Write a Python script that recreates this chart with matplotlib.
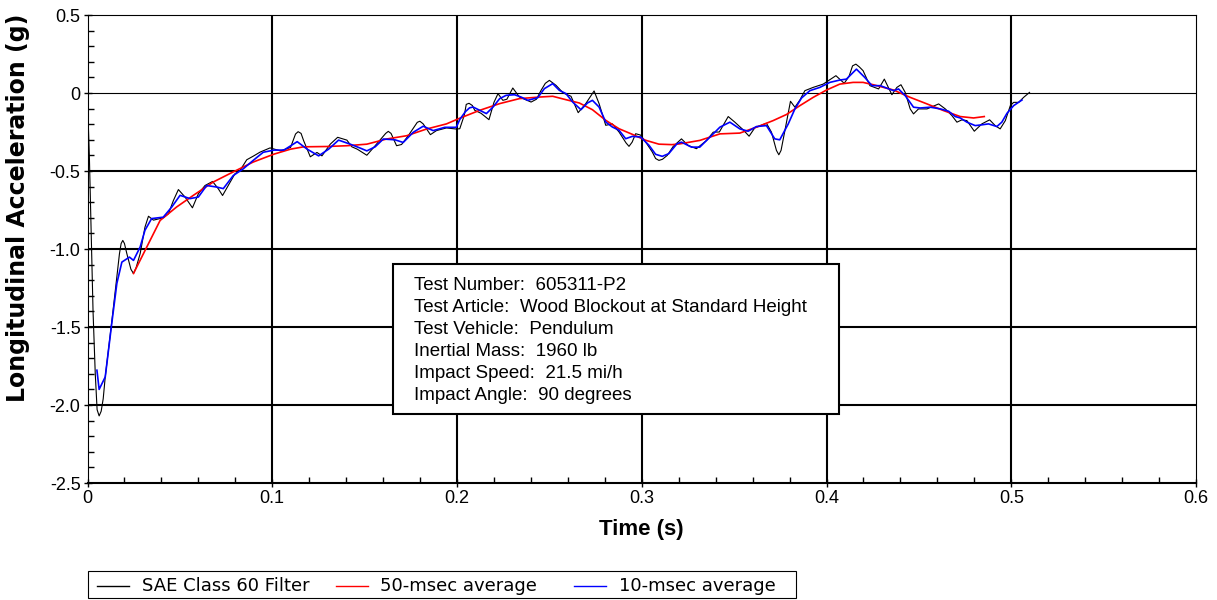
import matplotlib
matplotlib.use("Agg")
import matplotlib.pyplot as plt
from matplotlib.patches import Rectangle
from matplotlib.lines import Line2D
from matplotlib.ticker import MultipleLocator

# ---- data -------------------------------------------------------------
time_sae = [0.0000, 0.0010, 0.0020, 0.0030, 0.0042, 0.0052, 0.0063, 0.0074, 0.0085, 0.0096,
            0.0132, 0.0159, 0.0173, 0.0182, 0.0191, 0.0200, 0.0213, 0.0235, 0.0249, 0.0263,
            0.0285, 0.0311, 0.0330, 0.0357, 0.0410, 0.0438, 0.0465, 0.0492, 0.0528, 0.0568,
            0.0600, 0.0636, 0.0677, 0.0708, 0.0731, 0.0762, 0.0798, 0.0825, 0.0862, 0.0897,
            0.0934, 0.0988, 0.1045, 0.1099, 0.1126, 0.1140, 0.1156, 0.1170, 0.1206, 0.1242,
            0.1269, 0.1314, 0.1354, 0.1404, 0.1431, 0.1460, 0.1512, 0.1557, 0.1614, 0.1628,
            0.1643, 0.1673, 0.1700, 0.1736, 0.1785, 0.1799, 0.1817, 0.1856, 0.1889, 0.1943,
            0.1996, 0.2015, 0.2040, 0.2050, 0.2065, 0.2083, 0.2096, 0.2130, 0.2173, 0.2200,
            0.2222, 0.2248, 0.2270, 0.2302, 0.2338, 0.2401, 0.2430, 0.2455, 0.2478, 0.2500,
            0.2536, 0.2575, 0.2617, 0.2656, 0.2697, 0.2742, 0.2769, 0.2805, 0.2841, 0.2877,
            0.2915, 0.2931, 0.2948, 0.2967, 0.2994, 0.3021, 0.3057, 0.3075, 0.3093, 0.3112,
            0.3138, 0.3170, 0.3215, 0.3251, 0.3296, 0.3351, 0.3387, 0.3420, 0.3468, 0.3504,
            0.3549, 0.3581, 0.3612, 0.3675, 0.3702, 0.3729, 0.3742, 0.3754, 0.3775, 0.3805,
            0.3829, 0.3856, 0.3883, 0.3928, 0.3982, 0.4051, 0.4096, 0.4123, 0.4141, 0.4159,
            0.4177, 0.4198, 0.4235, 0.4282, 0.4313, 0.4354, 0.4381, 0.4403, 0.4426, 0.4453,
            0.4471, 0.4498, 0.4544, 0.4607, 0.4643, 0.4679, 0.4706, 0.4733, 0.4760, 0.4800,
            0.4841, 0.4883, 0.4913, 0.4940, 0.4968, 0.4995, 0.5013, 0.5040, 0.5067, 0.5099]
accel_sae = [-0.050, -0.400, -0.900, -1.400, -1.800, -2.030, -2.070, -2.040, -1.960, -1.820,
             -1.460, -1.180, -1.030, -0.965, -0.945, -0.965, -1.030, -1.130, -1.157, -1.120,
             -1.030, -0.860, -0.790, -0.815, -0.800, -0.774, -0.689, -0.619, -0.667, -0.736,
             -0.646, -0.593, -0.567, -0.614, -0.657, -0.593, -0.518, -0.497, -0.428, -0.405,
             -0.379, -0.352, -0.371, -0.349, -0.263, -0.248, -0.259, -0.306, -0.409, -0.381,
             -0.403, -0.328, -0.284, -0.302, -0.345, -0.360, -0.399, -0.338, -0.259, -0.246,
             -0.259, -0.338, -0.330, -0.274, -0.188, -0.181, -0.198, -0.267, -0.241, -0.224,
             -0.231, -0.229, -0.140, -0.073, -0.066, -0.080, -0.111, -0.130, -0.171, -0.060,
             -0.004, -0.047, -0.040, 0.032, -0.026, -0.058, -0.040, 0.017, 0.062, 0.081,
             0.049, 0.000, -0.021, -0.126, -0.068, 0.013, -0.068, -0.207, -0.198, -0.250,
             -0.320, -0.342, -0.315, -0.261, -0.270, -0.314, -0.378, -0.420, -0.432, -0.425,
             -0.400, -0.343, -0.294, -0.336, -0.357, -0.304, -0.251, -0.250, -0.151, -0.187,
             -0.236, -0.277, -0.223, -0.194, -0.251, -0.368, -0.396, -0.368, -0.240, -0.053,
             -0.091, -0.045, 0.015, 0.036, 0.057, 0.111, 0.062, 0.110, 0.174, 0.185,
             0.168, 0.143, 0.047, 0.026, 0.089, -0.011, 0.036, 0.053, 0.004, -0.102,
             -0.134, -0.102, -0.102, -0.070, -0.102, -0.145, -0.187, -0.172, -0.177, -0.245,
             -0.198, -0.172, -0.209, -0.230, -0.177, -0.081, -0.060, -0.060, -0.028, 0.004]

time_avg50 = [0.0249, 0.0321, 0.0393, 0.0482, 0.0573, 0.0680, 0.0770, 0.0896, 0.1009, 0.1099,
              0.1170, 0.1296, 0.1404, 0.1512, 0.1619, 0.1727, 0.1835, 0.1943, 0.2014, 0.2123,
              0.2231, 0.2338, 0.2446, 0.2518, 0.2590, 0.2662, 0.2733, 0.2805, 0.2877, 0.2949,
              0.3021, 0.3093, 0.3164, 0.3206, 0.3314, 0.3423, 0.3531, 0.3621, 0.3711, 0.3783,
              0.3856, 0.3928, 0.4000, 0.4072, 0.4144, 0.4198, 0.4253, 0.4273, 0.4363, 0.4453,
              0.4544, 0.4634, 0.4724, 0.4796, 0.4854]
accel_avg50 = [-1.157, -0.987, -0.817, -0.731, -0.656, -0.571, -0.517, -0.443, -0.392, -0.360,
               -0.345, -0.343, -0.338, -0.328, -0.295, -0.274, -0.231, -0.198, -0.162, -0.111,
               -0.068, -0.036, -0.026, -0.021, -0.043, -0.064, -0.107, -0.175, -0.229, -0.265,
               -0.303, -0.328, -0.331, -0.326, -0.304, -0.262, -0.257, -0.219, -0.177, -0.138,
               -0.081, -0.028, 0.019, 0.057, 0.068, 0.068, 0.053, 0.047, 0.019, -0.028,
               -0.070, -0.113, -0.151, -0.160, -0.151]

time_avg10 = [0.0051, 0.0063, 0.0096, 0.0132, 0.0159, 0.0186, 0.0227, 0.0249, 0.0285, 0.0311,
              0.0347, 0.0410, 0.0456, 0.0501, 0.0555, 0.0600, 0.0645, 0.0700, 0.0735, 0.0789,
              0.0843, 0.0897, 0.0951, 0.1009, 0.1063, 0.1135, 0.1189, 0.1251, 0.1305, 0.1359,
              0.1422, 0.1476, 0.1512, 0.1557, 0.1601, 0.1664, 0.1709, 0.1763, 0.1817, 0.1871,
              0.1934, 0.1996, 0.2015, 0.2045, 0.2068, 0.2087, 0.2123, 0.2159, 0.2195, 0.2231,
              0.2266, 0.2311, 0.2347, 0.2383, 0.2437, 0.2473, 0.2518, 0.2554, 0.2590, 0.2626,
              0.2671, 0.2706, 0.2733, 0.2769, 0.2805, 0.2841, 0.2877, 0.2913, 0.2949, 0.2994,
              0.3039, 0.3075, 0.3111, 0.3146, 0.3191, 0.3215, 0.3269, 0.3314, 0.3369, 0.3423,
              0.3477, 0.3531, 0.3576, 0.3621, 0.3675, 0.3720, 0.3747, 0.3793, 0.3829, 0.3865,
              0.3910, 0.3964, 0.4018, 0.4072, 0.4108, 0.4162, 0.4207, 0.4246, 0.4291, 0.4363,
              0.4390, 0.4426, 0.4471, 0.4507, 0.4562, 0.4616, 0.4661, 0.4697, 0.4724, 0.4760,
              0.4805, 0.4841, 0.4877, 0.4922, 0.4949, 0.4977, 0.5013, 0.5058]
accel_avg10 = [-1.777, -1.900, -1.820, -1.470, -1.220, -1.084, -1.052, -1.073, -0.987, -0.880,
               -0.805, -0.796, -0.731, -0.656, -0.677, -0.667, -0.593, -0.603, -0.613, -0.529,
               -0.486, -0.432, -0.380, -0.366, -0.366, -0.312, -0.360, -0.403, -0.360, -0.302,
               -0.328, -0.353, -0.371, -0.345, -0.295, -0.300, -0.317, -0.252, -0.213, -0.241,
               -0.220, -0.220, -0.170, -0.120, -0.095, -0.090, -0.111, -0.132, -0.090, -0.036,
               -0.015, -0.011, -0.026, -0.047, -0.030, 0.028, 0.060, 0.017, -0.004, -0.058,
               -0.107, -0.064, -0.047, -0.090, -0.186, -0.218, -0.239, -0.293, -0.278, -0.282,
               -0.335, -0.393, -0.406, -0.389, -0.325, -0.315, -0.347, -0.347, -0.283, -0.219,
               -0.187, -0.230, -0.245, -0.215, -0.209, -0.294, -0.300, -0.198, -0.102, -0.032,
               0.015, 0.036, 0.068, 0.083, 0.089, 0.153, 0.100, 0.047, 0.047, 0.015,
               0.026, -0.017, -0.091, -0.096, -0.091, -0.102, -0.117, -0.151, -0.160, -0.187,
               -0.209, -0.204, -0.198, -0.215, -0.187, -0.130, -0.081, -0.045]

series_labels = ["SAE Class 60 Filter", "50-msec average", "10-msec average"]

x_ticks = [0.0, 0.1, 0.2, 0.3, 0.4, 0.5, 0.6]
x_tick_labels = ["0", "0.1", "0.2", "0.3", "0.4", "0.5", "0.6"]
y_ticks = [0.5, 0.0, -0.5, -1.0, -1.5, -2.0, -2.5]
y_tick_labels = ["0.5", "0", "-0.5", "-1.0", "-1.5", "-2.0", "-2.5"]

info_lines = [
    "Test Number:  605311-P2",
    "Test Article:  Wood Blockout at Standard Height",
    "Test Vehicle:  Pendulum",
    "Inertial Mass:  1960 lb",
    "Impact Speed:  21.5 mi/h",
    "Impact Angle:  90 degrees",
]

# ---- figure -------------------------------------------------------------
W, H = 1217, 600
plt.rcParams["font.family"] = ["Liberation Sans", "DejaVu Sans"]

fig = plt.figure(figsize=(W / 100, H / 100), dpi=100)
ax_left, ax_right, ax_top, ax_bottom = 87.5, 1196.0, 15.0, 483.0
ax = fig.add_axes([ax_left / W, 1 - ax_bottom / H,
                   (ax_right - ax_left) / W, (ax_bottom - ax_top) / H])

styles = [dict(color="black", lw=0.8, zorder=3, solid_joinstyle="round"),
          dict(color="#ff0000", lw=1.2, zorder=4, solid_joinstyle="round"),
          dict(color="#0000ff", lw=1.2, zorder=5, solid_joinstyle="round")]

ax.plot(time_sae, accel_sae, **styles[0])
ax.plot(time_avg50, accel_avg50, **styles[1])
ax.plot(time_avg10, accel_avg10, **styles[2])

ax.set_xlim(x_ticks[0], x_ticks[-1])
ax.set_ylim(y_ticks[-1], y_ticks[0])

# interior grid lines; the zero line is drawn thinner
for xv in x_ticks[1:-1]:
    ax.axvline(xv, color="black", lw=1.5, zorder=1)
for yv in y_ticks[1:-1]:
    ax.axhline(yv, color="black", lw=0.8 if yv == 0 else 1.5, zorder=1)

ax.set_xticks(x_ticks)
ax.set_xticklabels(x_tick_labels)
ax.set_yticks(y_ticks)
ax.set_yticklabels(y_tick_labels)
ax.xaxis.set_minor_locator(MultipleLocator(0.02))
ax.yaxis.set_minor_locator(MultipleLocator(0.1))
ax.tick_params(which="major", direction="inout", length=6, width=1,
               labelsize=13, pad=2, top=False, right=False)
ax.tick_params(which="minor", direction="in", length=4, width=1,
               top=False, right=False)

for side in ("top", "right", "left"):
    ax.spines[side].set_linewidth(0.8)
ax.spines["bottom"].set_linewidth(1.5)

ax.set_xlabel("Time (s)", fontsize=16, fontweight="bold")
ax.xaxis.label.set_verticalalignment("baseline")
ax.xaxis.set_label_coords(0.5, (ax_bottom - 535) / (ax_bottom - ax_top))

ax.set_ylabel("Longitudinal Acceleration (g)", fontsize=17, fontweight="bold",
              family=["DejaVu Sans"])
ax.yaxis.set_label_coords((30 - ax_left) / (ax_right - ax_left),
                          (ax_bottom - 208) / (ax_bottom - ax_top))

# ---- test information box ----------------------------------------------
aw, ah = ax_right - ax_left, ax_bottom - ax_top
box_l, box_r, box_t, box_b = 393, 839, 264, 414
ax.add_patch(Rectangle(((box_l - ax_left) / aw, (ax_bottom - box_b) / ah),
                       (box_r - box_l) / aw, (box_b - box_t) / ah,
                       transform=ax.transAxes, facecolor="white",
                       edgecolor="black", lw=1.5, zorder=10))
for i, line in enumerate(info_lines):
    base = 290 + 22 * i
    ax.text((414 - ax_left) / aw, (ax_bottom - base) / ah, line,
            transform=ax.transAxes, fontsize=13.5, va="baseline", ha="left",
            zorder=11)

# ---- legend strip below the axes ----------------------------------------
leg_l, leg_r, leg_t, leg_b = 88, 796, 571, 598
fig.add_artist(Rectangle((leg_l / W, 1 - leg_b / H), (leg_r - leg_l) / W,
                         (leg_b - leg_t) / H, transform=fig.transFigure,
                         facecolor="white", edgecolor="black", lw=0.8))
leg_y = 1 - 586 / H
for i, (label, st) in enumerate(zip(series_labels, styles)):
    x0 = 97 + 238.5 * i
    fig.add_artist(Line2D([x0 / W, (x0 + 32) / W], [leg_y, leg_y],
                          transform=fig.transFigure, color=st["color"], lw=1.0))
    fig.text((x0 + 45) / W, leg_y, label, fontsize=13, va="center", ha="left",
             family=["DejaVu Sans"])

fig.savefig("out.png", dpi=100)
